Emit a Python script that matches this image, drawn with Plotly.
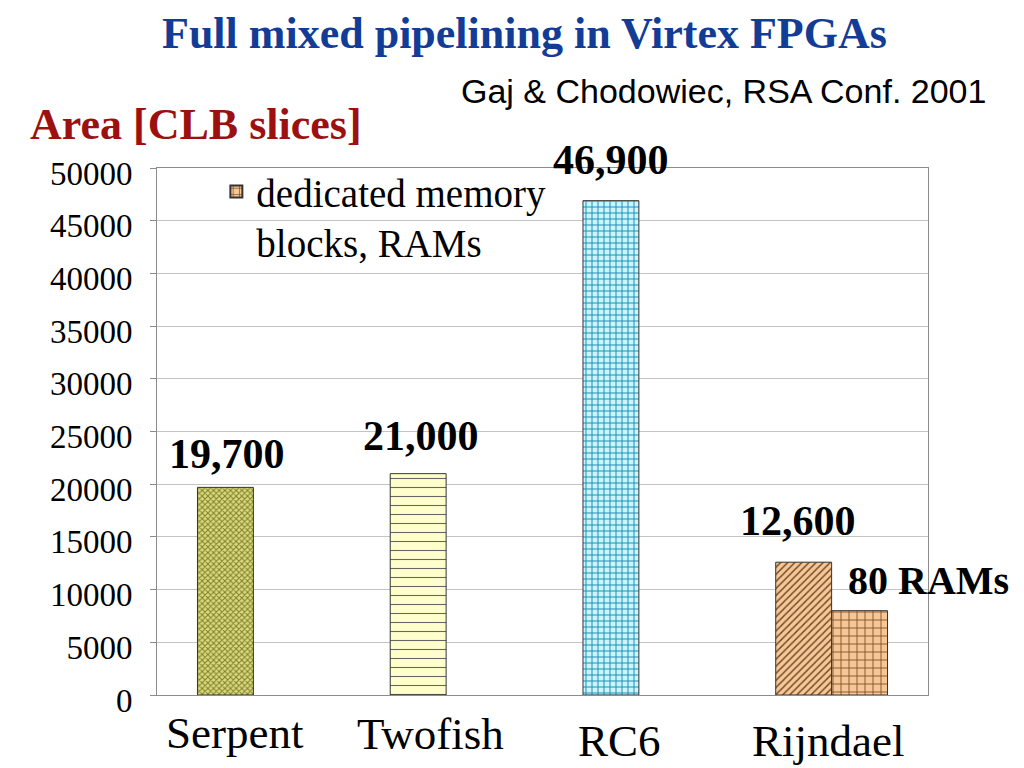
import plotly.graph_objects as go

# ---- data ----
categories = ["Serpent", "Twofish", "RC6", "Rijndael"]
area_slices = [19700, 21000, 46900, 12600]
ram_bar_height = [None, None, None, 8000]
area_labels = ["19,700", "21,000", "46,900", "12,600"]
ram_labels = [None, None, None, "80 RAMs"]
y_tick_vals = [0, 5000, 10000, 15000, 20000, 25000, 30000, 35000, 40000, 45000, 50000]

SERIF = "Liberation Serif, Times New Roman, serif"
SANS = "Liberation Sans, Arial, sans-serif"

patterns = [
    dict(shape="x", bgcolor="#dada80", fgcolor="#80802a", size=4, solidity=0.45),
    dict(shape="-", bgcolor="#ffffcc", fgcolor="#666666", size=9, solidity=0.12),
    dict(shape="+", bgcolor="#ccf4ff", fgcolor="#1890b0", size=6, solidity=0.3),
    dict(shape="/", bgcolor="#f5c796", fgcolor="#6a4020", size=5, solidity=0.28),
]
BAR_W = 0.29

fig = go.Figure()
for cat, val, pat in zip(categories, area_slices, patterns):
    fig.add_trace(go.Bar(
        x=[cat], y=[val], name=cat, showlegend=False,
        width=BAR_W, offset=-BAR_W,
        marker=dict(
            color=pat["bgcolor"],
            line=dict(color="#333333", width=1),
            pattern=dict(fillmode="replace", **pat),
        ),
    ))
fig.add_trace(go.Bar(
    x=categories, y=ram_bar_height, name="dedicated memory<br>blocks, RAMs",
    showlegend=True, width=BAR_W, offset=0,
    marker=dict(
        color="#f5c796",
        line=dict(color="#333333", width=1),
        pattern=dict(shape="+", bgcolor="#f5c796", fgcolor="#7a4a20",
                     size=8, solidity=0.2, fillmode="replace"),
    ),
))

annotations = []
label_yshift = [33, 38, 41, 41]
label_xshift = [-26, -25, -28, -34]
for cat, val, lab, ys, xs in zip(categories, area_slices, area_labels, label_yshift, label_xshift):
    annotations.append(dict(
        x=cat, y=val, xref="x", yref="y", text=lab, showarrow=False,
        xanchor="center", yanchor="middle", xshift=xs, yshift=ys,
        font=dict(family=SERIF, size=42, color="black", weight="bold"),
    ))
for cat, val, lab in zip(categories, ram_bar_height, ram_labels):
    if lab:
        annotations.append(dict(
            x=cat, y=val, xref="x", yref="y", text=lab, showarrow=False,
            xanchor="left", yanchor="middle", xshift=14, yshift=30,
            font=dict(family=SERIF, size=40, color="black", weight="bold"),
        ))

# category labels (placed individually, as in the slide)
cat_xshift = [-18, -16, -19, -4]
cat_yshift = [-38, -39, -46, -46]
for cat, xs, ys in zip(categories, cat_xshift, cat_yshift):
    annotations.append(dict(
        x=cat, y=0, xref="x", yref="y", text=cat, showarrow=False,
        xanchor="center", yanchor="middle", xshift=xs, yshift=ys,
        font=dict(family=SERIF, size=45, color="black"),
    ))

annotations += [
    dict(text="Full mixed pipelining in Virtex FPGAs", xref="paper", yref="paper",
         x=0.477, y=1.255, xanchor="center", yanchor="middle", showarrow=False,
         font=dict(family=SERIF, size=44, color="#123c96", weight="bold")),
    dict(text="Gaj & Chodowiec, RSA Conf. 2001", xref="paper", yref="paper",
         x=1.078, y=1.146, xanchor="right", yanchor="middle", showarrow=False,
         font=dict(family=SANS, size=34, color="black")),
    dict(text="Area [CLB slices]", xref="paper", yref="paper",
         x=-0.167, y=1.082, xanchor="left", yanchor="middle", showarrow=False,
         font=dict(family=SERIF, size=44, color="#9c1010", weight="bold")),
]

fig.update_layout(
    width=1024, height=768,
    margin=dict(l=149, r=104, t=160, b=81),
    paper_bgcolor="white", plot_bgcolor="white",
    barmode="overlay",
    annotations=annotations,
    legend=dict(
        x=0.077, y=1.016, xanchor="left", yanchor="top",
        bgcolor="rgba(0,0,0,0)", valign="top",
        font=dict(family=SERIF, size=39, color="black"),
        itemsizing="constant",
    ),
    xaxis=dict(
        type="category", range=[-0.5, 3.5], automargin=False,
        showline=True, linecolor="#8c8c8c", mirror=True,
        showticklabels=False,
        ticks="", showgrid=False,
    ),
    yaxis=dict(
        range=[0, 50000], tickvals=y_tick_vals, automargin=False,
        ticktext=[str(v) for v in y_tick_vals],
        showline=True, linecolor="#8c8c8c", mirror=True,
        showgrid=True, gridcolor="#c4c4c4", gridwidth=1,
        ticks="outside", ticklen=6, tickcolor="#8c8c8c",
        ticklabelstandoff=11, ticklabelshift=5,
        tickfont=dict(family=SERIF, size=33, color="black"),
        zeroline=False,
    ),
)

fig.write_html("out.html")
